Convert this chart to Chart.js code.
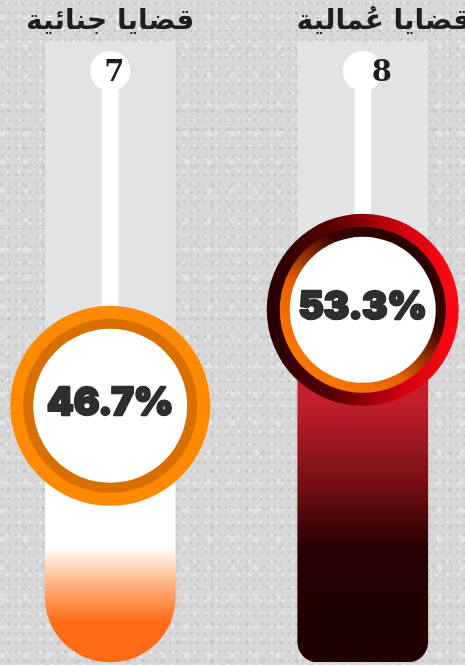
<!DOCTYPE html>
<html>
<head>
<meta charset="utf-8">
<script src="https://cdn.jsdelivr.net/npm/chart.js@4.4.1/dist/chart.umd.min.js"></script>
<style>
html, body {
    margin: 0;
    padding: 0;
    width: 465px;
    height: 665px;
    overflow: hidden;
}
body {
    background-color: #d8d8d8;
    background-image:
        radial-gradient(circle at 30% 40%, rgba(0,0,0,0.07) 1px, transparent 2px),
        radial-gradient(circle at 70% 20%, rgba(255,255,255,0.45) 1px, transparent 2px),
        radial-gradient(circle at 50% 80%, rgba(0,0,0,0.05) 1.5px, transparent 3px),
        radial-gradient(circle at 10% 60%, rgba(255,255,255,0.35) 2px, transparent 4px);
    background-size: 7px 9px, 11px 13px, 17px 19px, 23px 29px;
}
#wrap {
    position: absolute;
    left: -16px;
    top: 0;
    width: 505px;
    height: 665px;
}
</style>
</head>
<body>
<div id="wrap"><canvas id="caseChart"></canvas></div>
<script>

const categories = ["قضايا جنائية", "قضايا عُمالية"];

const caseCounts = [7, 8];

const shares = [46.7, 53.3];

// axis bounds, the grey track runs up to scaleMax
const scaleMin = 29.1;
const scaleMax = 71.7;
const stemTop = 69.7;

const labelShift = [0, 21];
const numberShift = [4, 19];

function fillGradient(context) {
    const chart = context.chart;
    const area = chart.chartArea;
    if (!area) return "#ffffff";
    const g = chart.ctx.createLinearGradient(0, area.top, 0, area.bottom);
    const h = area.bottom - area.top;
    if (context.dataIndex === 0) {
        g.addColorStop(0, "#ffffff");
        g.addColorStop((h - 115) / h, "#ffffff");
        g.addColorStop((h - 82) / h, "#ffbb8c");
        g.addColorStop((h - 40) / h, "#ff6b16");
        g.addColorStop(1, "#ff6a14");
    } else {
        g.addColorStop(0, "#d82232");
        g.addColorStop((h - 262) / h, "#c41e2c");
        g.addColorStop((h - 182) / h, "#7a1016");
        g.addColorStop((h - 112) / h, "#260000");
        g.addColorStop(1, "#1f0000");
    }
    return g;
}

const decorations = {
    id: "decorations",
    afterDatasetsDraw(chart) {
        const ctx = chart.ctx;
        const area = chart.chartArea;
        const meta = chart.getDatasetMeta(1);

        meta.data.forEach((bar, i) => {
            const x = bar.x;
            const y = bar.y;

            // small cap circle with the count
            ctx.save();
            ctx.fillStyle = "#ffffff";
            ctx.beginPath();
            ctx.arc(x, area.top + 29, 20, 0, Math.PI * 2);
            ctx.fill();
            ctx.fillStyle = "#1c1c1c";
            ctx.font = "bold 29px 'DejaVu Serif'";
            ctx.textAlign = "center";
            ctx.textBaseline = "middle";
            ctx.fillText(String(caseCounts[i]), x + numberShift[i], area.top + 31);

            // category label
            ctx.fillStyle = "#1e1e1e";
            ctx.font = "bold 28px 'DejaVu Sans'";
            ctx.direction = "rtl";
            ctx.fillText(categories[i], x + labelShift[i], 22);
            ctx.direction = "ltr";

            // big ring
            const r = i === 0 ? 100 : 96;
            let outer, inner;
            if (i === 0) {
                outer = "#ff8a00";
                inner = "#d86f00";
            } else {
                outer = ctx.createLinearGradient(x - r, y, x + r, y);
                outer.addColorStop(0, "#250000");
                outer.addColorStop(0.35, "#5a0000");
                outer.addColorStop(0.7, "#d00010");
                outer.addColorStop(1, "#ff0a14");
                inner = ctx.createLinearGradient(x - r * 0.6, y + r * 0.7, x + r * 0.6, y - r * 0.7);
                inner.addColorStop(0, "#ff7a00");
                inner.addColorStop(0.35, "#e86000");
                inner.addColorStop(0.7, "#3a0000");
                inner.addColorStop(1, "#2a0000");
            }
            ctx.fillStyle = outer;
            ctx.beginPath();
            ctx.arc(x, y, r, 0, Math.PI * 2);
            ctx.fill();
            ctx.fillStyle = inner;
            ctx.beginPath();
            ctx.arc(x, y, r - 13, 0, Math.PI * 2);
            ctx.fill();
            ctx.fillStyle = "#ffffff";
            ctx.beginPath();
            ctx.arc(x, y, r - 23, 0, Math.PI * 2);
            ctx.fill();

            // share text, stroked to look heavier
            const txt = shares[i].toFixed(1) + "%";
            ctx.fillStyle = "#2e2e2e";
            ctx.strokeStyle = "#2e2e2e";
            ctx.lineWidth = 2.4;
            ctx.lineJoin = "round";
            ctx.font = "900 38px Inter";
            ctx.textAlign = "center";
            ctx.textBaseline = "middle";
            ctx.strokeText(txt, x, y - 2);
            ctx.fillText(txt, x, y - 2);
            ctx.restore();
        });
    }
};

const chart = new Chart(document.getElementById("caseChart"), {

    type: "bar",

    data: {
        labels: categories,
        datasets: [
            {
                label: "stem",
                data: shares.map(v => [v, stemTop]),
                backgroundColor: "#ffffff",
                barThickness: 16,
                borderSkipped: false,
                grouped: false
            },
            {
                label: "share",
                data: shares.map(v => [scaleMin, v]),
                backgroundColor: fillGradient,
                barThickness: 130,
                borderSkipped: false,
                borderRadius: ctx => ctx.dataIndex === 0
                    ? { topLeft: 0, topRight: 0, bottomLeft: 65, bottomRight: 65 }
                    : { topLeft: 0, topRight: 0, bottomLeft: 20, bottomRight: 20 },
                grouped: false
            },
            {
                label: "track",
                data: shares.map(v => [v, scaleMax]),
                backgroundColor: "#e3e3e3",
                barThickness: 130,
                borderSkipped: false,
                grouped: false
            }
        ]
    },

    options: {
        responsive: true,
        maintainAspectRatio: false,
        animation: false,
        layout: {
            padding: { top: 42, bottom: 3, left: 0, right: 0 }
        },
        scales: {
            x: { display: false },
            y: { display: false, min: scaleMin, max: scaleMax }
        },
        plugins: {
            legend: { display: false },
            tooltip: { enabled: false }
        }
    },

    plugins: [decorations]
});
</script>
</body>
</html>
